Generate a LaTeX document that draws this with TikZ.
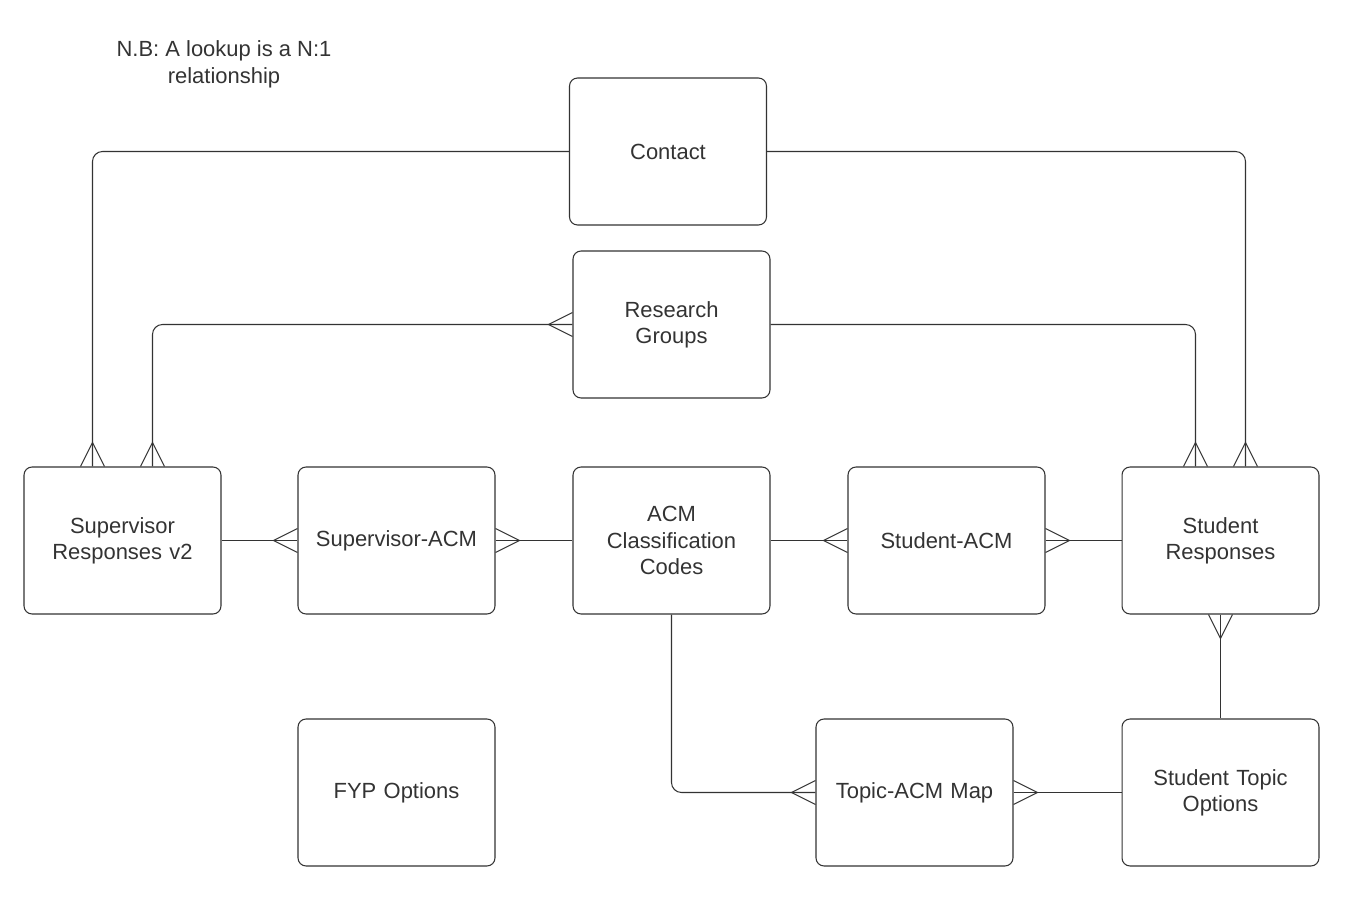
\documentclass[tikz,border=0pt]{standalone}
\usepackage{fontspec}
\setmainfont{Liberation Sans}
\usetikzlibrary{calc,positioning}
\definecolor{inkgray}{HTML}{333333}

\begin{document}
\begin{tikzpicture}[
  x=0.02cm, y=-0.02cm,
  box/.style={rectangle, draw=inkgray, line width=0.6pt, rounded corners=0.16cm, minimum width=3.94cm, minimum height=2.94cm, text width=3.6cm, align=center, text=inkgray, font=\fontsize{12.5}{15}\selectfont},
  link/.style={draw=inkgray, line width=0.6pt, rounded corners=0.2cm},
  foot/.pic={\draw[draw=inkgray, line width=0.6pt] (0,-12) -- (-24,0) -- (0,12);},
]
  \useasboundingbox (0,0) rectangle (1360,902);

  \node[text=inkgray, align=center, font=\fontsize{12.5}{15.3}\selectfont] (note) at (224,64) {N.B: A lookup is a N:1\\relationship};

  \node[box] (contact) at (668,151.5) {Contact};
  \node[box] (research) at (671.5,324.5) {Research\\Groups};

  \node[box] (superresp) at (122.5,540.5) {Supervisor\\Responses v2};
  \node[box] (superacm) at (396.5,540.5) {Supervisor-ACM};
  \node[box] (acm) at (671.5,540.5) {ACM\\Classification\\Codes};
  \node[box] (studentacm) at (946.5,540.5) {Student-ACM};
  \node[box] (studentresp) at (1220.5,540.5) {Student\\Responses};

  \node[box] (fyp) at (396.5,792.5) {FYP Options};
  \node[box] (topicacm) at (914.5,792.5) {Topic-ACM Map};
  \node[box] (studenttopic) at (1220.5,792.5) {Student Topic\\Options};

  % contact lookups
  \draw[link] (contact.west) -| ([xshift=-0.6cm]superresp.north);
  \draw[link] (contact.east) -| ([xshift=0.5cm]studentresp.north);
  \pic[rotate=-90] at ([xshift=-0.6cm]superresp.north) {foot};
  \pic[rotate=-90] at ([xshift=0.5cm]studentresp.north) {foot};

  % research groups
  \draw[link] (research.west) -| ([xshift=0.6cm]superresp.north);
  \draw[link] (research.east) -| ([xshift=-0.5cm]studentresp.north);
  \pic at (research.west) {foot};
  \pic[rotate=-90] at ([xshift=0.6cm]superresp.north) {foot};
  \pic[rotate=-90] at ([xshift=-0.5cm]studentresp.north) {foot};

  % middle row
  \draw[link] (superresp.east) -- (superacm.west);
  \draw[link] (superacm.east) -- (acm.west);
  \draw[link] (acm.east) -- (studentacm.west);
  \draw[link] (studentacm.east) -- (studentresp.west);
  \pic at (superacm.west) {foot};
  \pic[rotate=180] at (superacm.east) {foot};
  \pic at (studentacm.west) {foot};
  \pic[rotate=180] at (studentacm.east) {foot};

  % topics
  \draw[link] (studentresp.south) -- (studenttopic.north);
  \pic[rotate=90] at (studentresp.south) {foot};
  \draw[link] (acm.south) |- (topicacm.west);
  \draw[link] (topicacm.east) -- (studenttopic.west);
  \pic at (topicacm.west) {foot};
  \pic[rotate=180] at (topicacm.east) {foot};
\end{tikzpicture}
\end{document}
